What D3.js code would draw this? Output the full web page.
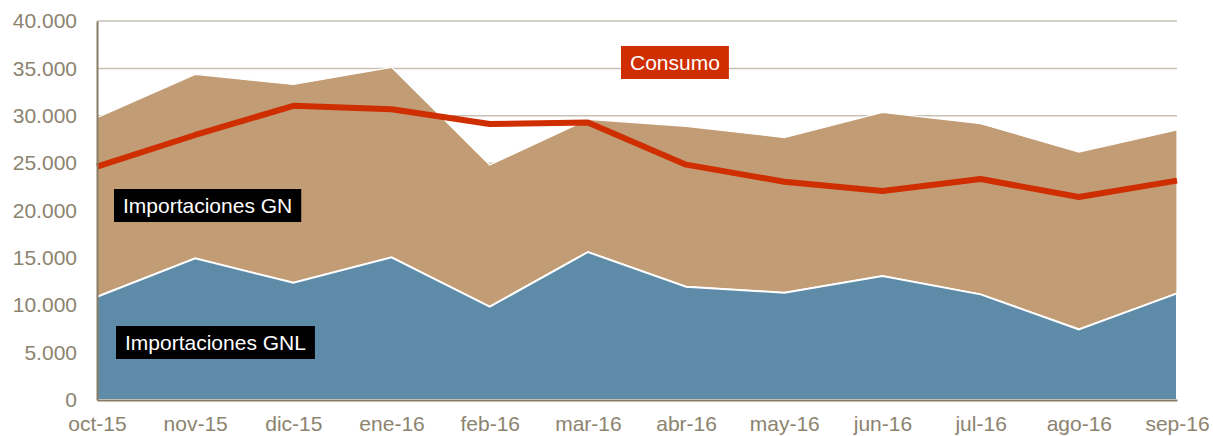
<!DOCTYPE html>
<html>
<head>
<meta charset="utf-8">
<script src="https://cdn.jsdelivr.net/npm/d3@7"></script>
<style>
  html, body { margin: 0; padding: 0; background: #fff; }
  svg { display: block; font-family: "Liberation Sans", Arial, sans-serif; }
</style>
</head>
<body>
<svg id="chart" width="1213" height="436"></svg>
<script>
// Monthly categories (Oct 2015 – Sep 2016)
const months = ["oct-15", "nov-15", "dic-15", "ene-16", "feb-16", "mar-16",
                "abr-16", "may-16", "jun-16", "jul-16", "ago-16", "sep-16"];

// Stacked series: LNG imports (bottom) and pipeline gas imports (on top)
const importacionesGNL = [10900, 14950, 12380, 15060, 9850, 15620,
                          11960, 11330, 13090, 11150, 7460, 11260];
const importacionesGN  = [18890, 19420, 20920, 20040, 14950, 14000,
                          16920, 16370, 17270, 18010, 18710, 17240];

// Consumption line
const consumo = [24620, 27970, 31050, 30680, 29130, 29300,
                 24840, 23040, 22060, 23320, 21420, 23150];

const yTicks = [0, 5000, 10000, 15000, 20000, 25000, 30000, 35000, 40000];

const svg = d3.select("#chart");
const plot = { left: 97, right: 1177, top: 21, bottom: 400 };

const x = d3.scalePoint().domain(months).range([plot.left, plot.right]);
const y = d3.scaleLinear().domain([0, 40000]).range([plot.bottom, plot.top]);

const locale = d3.formatLocale({ decimal: ",", thousands: ".", grouping: [3], currency: ["", "€"] });
const fmt = locale.format(",d");

const axisColor = "#877c66";
const labelColor = "#8c836f";

// Horizontal gridlines
svg.append("g")
  .selectAll("line")
  .data(yTicks.filter(d => d > 0))
  .join("line")
  .attr("x1", plot.left).attr("x2", plot.right)
  .attr("y1", d => y(d)).attr("y2", d => y(d))
  .attr("stroke", "#c9c2b4")
  .attr("stroke-width", 1.5);

// Stacked areas
const rows = months.map((m, i) => ({ month: m, gnl: importacionesGNL[i], gn: importacionesGN[i] }));
const stack = d3.stack().keys(["gnl", "gn"]);
const layers = stack(rows);
const fills = { gnl: "#5e8ca8", gn: "#c19c75" };

const area = d3.area()
  .x(d => x(d.data.month))
  .y0(d => y(d[0]))
  .y1(d => y(d[1]));

svg.append("g")
  .selectAll("path")
  .data(layers.slice().reverse())
  .join("path")
  .attr("d", area)
  .attr("fill", d => fills[d.key])
  .attr("stroke", "#ffffff")
  .attr("stroke-width", d => d.key === "gnl" ? 2 : 1.2)
  .attr("stroke-linejoin", "miter");

// Consumption line
const line = d3.line()
  .x((d, i) => x(months[i]))
  .y(d => y(d));

svg.append("path")
  .datum(consumo)
  .attr("d", line)
  .attr("fill", "none")
  .attr("stroke", "#cf2e00")
  .attr("stroke-width", 6)
  .attr("stroke-linejoin", "round");

// Y axis
const yAxis = svg.append("g")
  .attr("transform", `translate(${plot.left},0)`)
  .call(d3.axisLeft(y).tickValues(yTicks).tickFormat(d => fmt(d)).tickSize(0).tickPadding(20));
yAxis.select(".domain").attr("stroke", axisColor).attr("stroke-width", 2);
yAxis.selectAll("text")
  .attr("fill", labelColor)
  .attr("font-size", 21)
  .attr("font-family", "Liberation Sans, Arial, sans-serif");

// X axis
const xAxis = svg.append("g")
  .attr("transform", `translate(0,${plot.bottom})`)
  .call(d3.axisBottom(x).tickSize(0).tickPadding(16));
xAxis.select(".domain").attr("stroke", axisColor).attr("stroke-width", 2);
xAxis.selectAll("text")
  .attr("fill", labelColor)
  .attr("font-size", 21)
  .attr("font-family", "Liberation Sans, Arial, sans-serif");

// Boxed series labels
function boxLabel(text, bx, cy, bg) {
  const g = svg.append("g");
  const t = g.append("text")
    .attr("x", bx + 9)
    .attr("y", cy)
    .attr("dy", "0.36em")
    .attr("fill", "#ffffff")
    .attr("font-size", 21)
    .text(text);
  const w = t.node().getComputedTextLength();
  g.insert("rect", "text")
    .attr("x", bx).attr("y", cy - 16.5)
    .attr("width", w + 18).attr("height", 33)
    .attr("fill", bg);
}

boxLabel("Importaciones GN", 114, 205.5, "#000000");
boxLabel("Importaciones GNL", 116, 342.5, "#000000");
boxLabel("Consumo", 621, 62.5, "#cf2e00");
</script>
</body>
</html>
